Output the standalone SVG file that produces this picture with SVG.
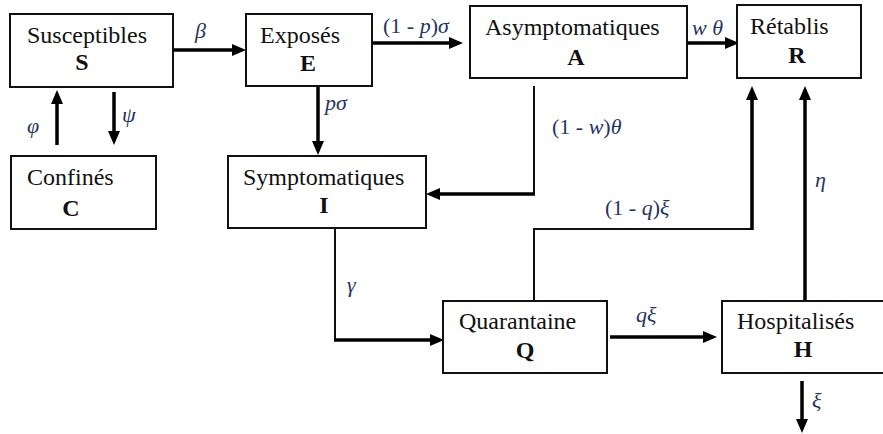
<svg xmlns="http://www.w3.org/2000/svg" width="883" height="434" viewBox="0 0 883 434" font-family="'Liberation Serif', 'Times New Roman', 'DejaVu Serif', serif">
<style>
.box{fill:#fff;stroke:#111;stroke-width:2}
.t{font-family:'Liberation Serif','Times New Roman','DejaVu Serif',serif;font-size:24px;fill:#111}
.b{font-family:'Liberation Serif','Times New Roman','DejaVu Serif',serif;font-size:24px;font-weight:bold;fill:#111;text-anchor:middle}
.lbl{font-family:'Liberation Serif','Times New Roman','DejaVu Serif',serif;font-size:22px;fill:#27355e}
.it{font-style:italic}
.thick{fill:none;stroke:#000;stroke-width:3.5}
.thin{fill:none;stroke:#111;stroke-width:2}
</style>
<defs>
<marker id="ah" markerUnits="userSpaceOnUse" markerWidth="14" markerHeight="12" refX="10" refY="6" orient="auto">
<path d="M0,0 L14,6 L0,12 z" fill="#000"/>
</marker>
</defs>
<rect width="883" height="434" fill="#fff"/>
<g id="connectors">
<path class="thick" d="M173,50 H242" marker-end="url(#ah)"/>
<path class="thick" d="M372,43 H459" marker-end="url(#ah)"/>
<path class="thick" d="M687,43 H735" marker-end="url(#ah)"/>
<path class="thick" d="M57,145 V94" marker-end="url(#ah)"/>
<path class="thick" d="M114,92 V141" marker-end="url(#ah)"/>
<path class="thick" d="M318,86 V151" marker-end="url(#ah)"/>
<path class="thin" d="M534,86 V194"/>
<path class="thick" d="M535,194 H430" marker-end="url(#ah)"/>
<path class="thin" d="M335,215 V340"/>
<path class="thick" d="M334,340 H440" marker-end="url(#ah)"/>
<path class="thin" d="M534,301 V229 H752"/>
<path class="thick" d="M752,230 V90" marker-end="url(#ah)"/>
<path class="thick" d="M805,301 V90" marker-end="url(#ah)"/>
<path class="thick" d="M610,337 H713" marker-end="url(#ah)"/>
<path class="thick" d="M802,381 V429" marker-end="url(#ah)"/>
<text class="lbl it" x="195" y="38">β</text>
<text class="lbl" x="383" y="33">(1 - <tspan class="it">p</tspan>)<tspan class="it">σ</tspan></text>
<text class="lbl it" x="692" y="35">w θ</text>
<text class="lbl it" x="325" y="110">pσ</text>
<text class="lbl it" x="27" y="133">φ</text>
<text class="lbl it" x="122" y="122">ψ</text>
<text class="lbl" x="552" y="134">(1 - <tspan class="it">w</tspan>)<tspan class="it">θ</tspan></text>
<text class="lbl" x="605" y="215">(1 - <tspan class="it">q</tspan>)<tspan class="it">ξ</tspan></text>
<text class="lbl it" x="815" y="187">η</text>
<text class="lbl it" x="347" y="292">γ</text>
<text class="lbl it" x="636" y="322">qξ</text>
<text class="lbl it" x="812" y="408">ξ</text>
</g>
<g id="S"><rect class="box" x="10" y="14" width="163" height="73"/><text class="t" x="27" y="43">Susceptibles</text><text class="b" x="82" y="70">S</text></g>
<g id="E"><rect class="box" x="246" y="14" width="126" height="72"/><text class="t" x="260" y="43">Exposés</text><text class="b" x="308" y="71">E</text></g>
<g id="A"><rect class="box" x="470" y="6" width="217" height="72"/><text class="t" x="485" y="35">Asymptomatiques</text><text class="b" x="576" y="65">A</text></g>
<g id="R"><rect class="box" x="737" y="5" width="124" height="73"/><text class="t" x="750" y="34">Rétablis</text><text class="b" x="797" y="63">R</text></g>
<g id="C"><rect class="box" x="11" y="156" width="145" height="73"/><text class="t" x="27" y="185">Confinés</text><text class="b" x="71" y="216">C</text></g>
<g id="I"><rect class="box" x="228" y="156" width="198" height="72"/><text class="t" x="243" y="185">Symptomatiques</text><text class="b" x="324" y="213">I</text></g>
<g id="Q"><rect class="box" x="443" y="301" width="164" height="72"/><text class="t" x="459" y="329">Quarantaine</text><text class="b" x="525" y="358">Q</text></g>
<g id="H"><rect class="box" x="722" y="301" width="170" height="72"/><text class="t" x="737" y="329">Hospitalisés</text><text class="b" x="803" y="357">H</text></g>
</svg>
